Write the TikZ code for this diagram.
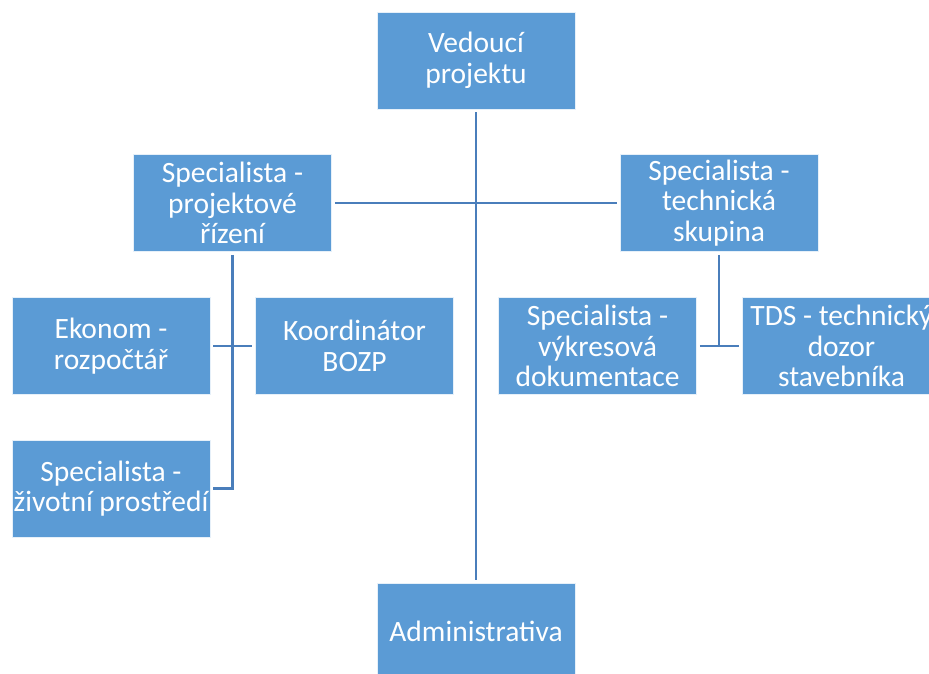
\documentclass[tikz,border=0pt]{standalone}
\usepackage{fontspec}
\setmainfont{Carlito}
\definecolor{boxblue}{HTML}{5B9BD5}
\definecolor{lineblue}{HTML}{4A7EBB}
\begin{document}
\begin{tikzpicture}[x=1pt,y=-1pt,
  orgbox/.style={rectangle, fill=boxblue, draw=white!85!boxblue, line width=0.6pt,
    minimum width=198pt, minimum height=97pt, inner sep=0pt,
    text=white, align=center, font=\fontsize{29.5}{30.5}\selectfont},
  link/.style={draw=lineblue, line width=2.6pt, shorten <=3pt, shorten >=3pt}]
\useasboundingbox (0,0) rectangle (929,673);
\clip (0,0) rectangle (929,673);

% boxes
\node[orgbox] (ved)   at (476,60.5)  {Vedoucí\\projektu};
\node[orgbox] (proj)  at (232.5,203) {Specialista -\\projektové\\řízení};
\node[orgbox] (tech)  at (719,203)   {Specialista -\\technická\\skupina};
\node[orgbox] (ekon)  at (111,346)   {Ekonom -\\rozpočtář};
\node[orgbox] (koord) at (354.5,346) {Koordinátor\\BOZP};
\node[orgbox] (vykr)  at (597.5,346) {Specialista -\\výkresová\\dokumentace};
\node[orgbox] (tds)   at (841.5,346) {TDS - technický\\dozor\\stavebníka};
\node[orgbox] (ziv)   at (111,488.5) {Specialista -\\životní prostředí};
\node[orgbox] (admin) at (476,631.5) {Administrativa};

% connectors
\draw[link] (ved.south) -- (admin.north);
\draw[link] (proj.east) -- (tech.west);
\draw[link] (proj.south) |- (ziv.east);
\draw[link] (ekon.east) -- (koord.west);
\draw[link, shorten >=0pt] (tech.south) -- (tech.south |- vykr.east);
\draw[link] (vykr.east) -- (tds.west);
\end{tikzpicture}
\end{document}
